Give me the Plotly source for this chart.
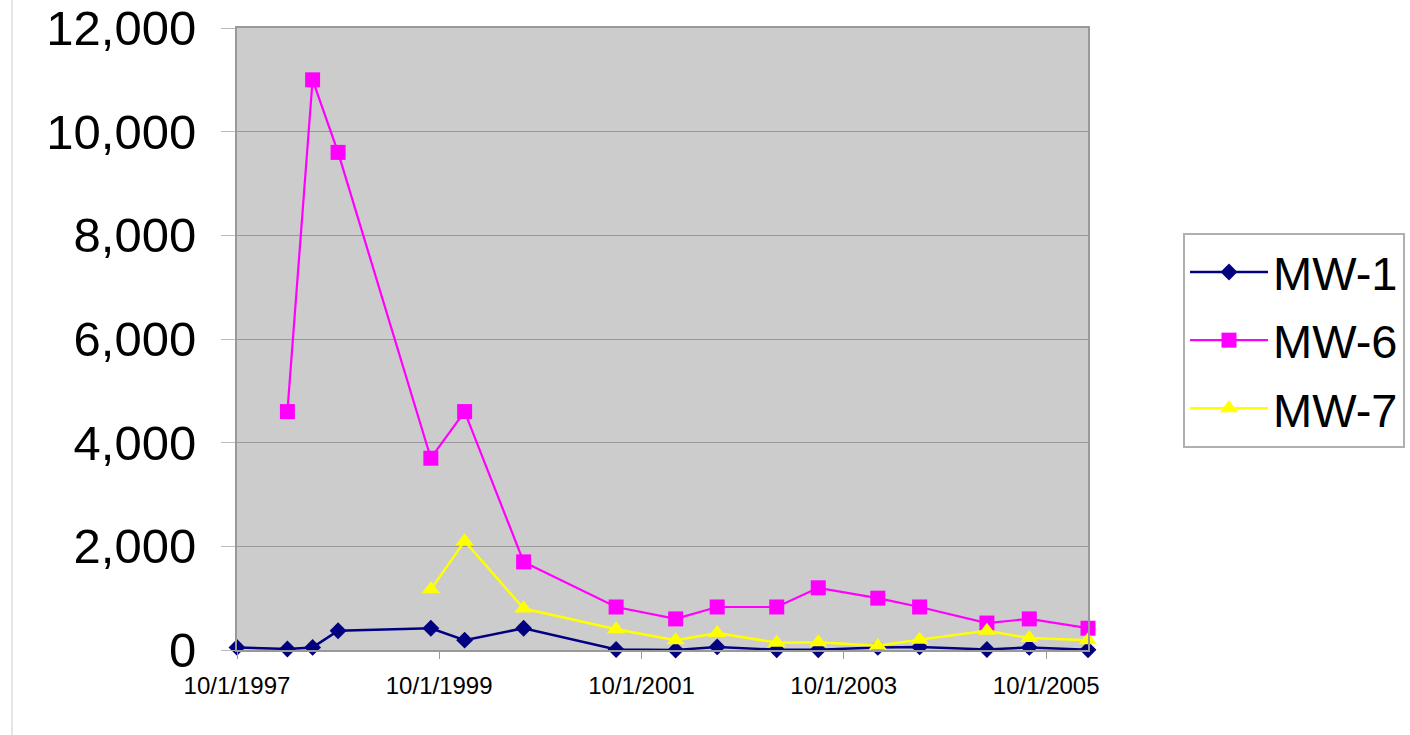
import plotly.graph_objects as go

# ---- data ----
dates_all = ["1997-10-01", "1998-04-01", "1998-07-01", "1998-10-01", "1999-09-01",
             "2000-01-01", "2000-08-01", "2001-07-01", "2002-02-01", "2002-07-01",
             "2003-02-01", "2003-07-01", "2004-02-01", "2004-07-01", "2005-03-01",
             "2005-08-01", "2006-03-01"]

mw1_values = [50, 20, 50, 370, 420, 190, 420, 10, 0, 60, 5, 5, 50, 60, 10, 50, 5]

mw6_dates = dates_all[1:]
mw6_values = [4600, 11000, 9600, 3700, 4600, 1700, 830, 600, 830, 830, 1200, 1000,
              830, 520, 600, 420]

mw7_dates = dates_all[4:]
mw7_values = [1170, 2100, 800, 400, 190, 330, 140, 150, 80, 200, 370, 230, 190]

series_names = ["MW-1", "MW-6", "MW-7"]

tick_dates = ["1997-10-01", "1999-10-01", "2001-10-01", "2003-10-01", "2005-10-01"]
tick_labels = ["10/1/1997", "10/1/1999", "10/1/2001", "10/1/2003", "10/1/2005"]

y_ticks = [0, 2000, 4000, 6000, 8000, 10000, 12000]

FONT = "Liberation Sans, Arial, sans-serif"

fig = go.Figure()
fig.add_trace(go.Scatter(
    x=dates_all, y=mw1_values, name=series_names[0], mode="lines+markers",
    line=dict(color="#000080", width=2.5),
    marker=dict(symbol="diamond", size=13, color="#000080"),
    cliponaxis=False, legendgroup="a"))
fig.add_trace(go.Scatter(
    x=mw6_dates, y=mw6_values, name=series_names[1], mode="lines+markers",
    line=dict(color="#FF00FF", width=2.2),
    marker=dict(symbol="square", size=15, color="#FF00FF"),
    cliponaxis=False, legendgroup="b"))
fig.add_trace(go.Scatter(
    x=mw7_dates, y=mw7_values, name=series_names[2], mode="lines+markers",
    line=dict(color="#FFFF00", width=2.5),
    marker=dict(symbol="triangle-up", size=16, color="#FFFF00"),
    cliponaxis=False, legendgroup="c"))

L, R, T, B = 237, 1088, 28, 650
W, H = 1410, 735

fig.update_layout(
    width=W, height=H,
    margin=dict(l=L, r=W - R, t=T, b=H - B, autoexpand=False),
    paper_bgcolor="white",
    plot_bgcolor="#CCCCCC",
    font=dict(family=FONT, color="black"),
    xaxis=dict(
        type="date",
        range=["1997-10-01", "2006-03-01"],
        tickvals=tick_dates, ticktext=tick_labels,
        tickfont=dict(size=24, family=FONT, color="black"),
        showgrid=False, zeroline=False,
        showline=True, linecolor="#999999", linewidth=2, mirror=True,
        ticks="outside", ticklen=7, tickcolor="#999999", tickwidth=1,
        ticklabelstandoff=6,
    ),
    yaxis=dict(
        range=[0, 12000],
        tickvals=y_ticks,
        tickformat=",d",
        tickfont=dict(size=49, family=FONT, color="black"),
        showgrid=True, gridcolor="#999999", gridwidth=1.3,
        zeroline=False,
        showline=True, linecolor="#999999", linewidth=2, mirror=True,
        ticks="outside", ticklen=14, tickcolor="#BBBBBB", tickwidth=1,
        ticklabelstandoff=15,
    ),
    legend=dict(
        x=(1183 - L) / (R - L), xanchor="left",
        y=(B - 233) / (B - T), yanchor="top",
        font=dict(size=47, family=FONT, color="black"),
        bgcolor="white", bordercolor="#B0B0B0", borderwidth=2,
        itemwidth=78, traceorder="grouped", tracegroupgap=4,
    ),
    showlegend=True,
)

# chart-area border line on the left
fig.add_shape(type="line", xref="paper", yref="paper",
              x0=(12 - L) / (R - L), x1=(12 - L) / (R - L),
              y0=(B - 0) / (B - T), y1=(B - H) / (B - T),
              line=dict(color="#DDDDDD", width=1.5))

fig.write_html("out.html")
